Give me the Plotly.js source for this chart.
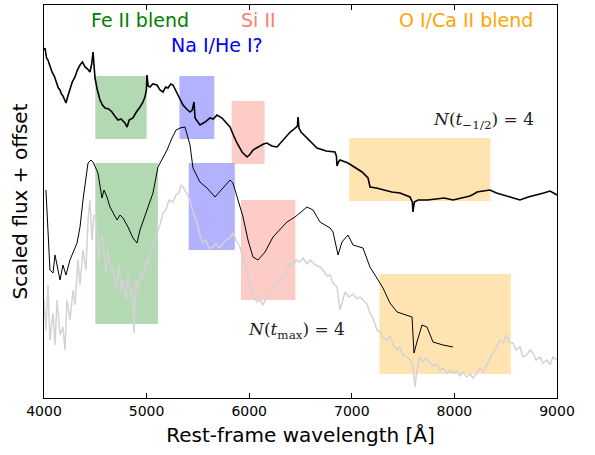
<!DOCTYPE html>
<html>
<head>
<meta charset="utf-8">
<script src="https://cdn.plot.ly/plotly-3.0.1.min.js"></script>
<style>html,body{margin:0;padding:0;background:#fff;}#chart{width:595px;height:455px;}</style>
</head>
<body>
<div id="chart"></div>
<script>
// Top spectrum: N(t_-1/2)=4
const waveTop = [4000,4010,4025,4039,4058,4078,4100,4127,4140,4156,4170,4185,4200,4214,4233,4253,4275,4302,4325,4351,4375,4400,4425,4448,4465,4478,4490,4497,4520,4546,4570,4595,4630,4663,4690,4721,4750,4789,4810,4830,4867,4900,4936,4960,4984,4998,5004,5015,5033,5060,5101,5130,5160,5185,5209,5235,5257,5280,5296,5330,5355,5390,5423,5445,5462,5472,5495,5520,5570,5618,5650,5686,5735,5770,5813,5850,5881,5930,5979,6010,6037,6070,6105,6140,6173,6220,6271,6320,6368,6400,6427,6470,6476,6485,6505,6580,6661,6750,6836,6850,6856,6870,6885,6963,7010,7051,7100,7158,7168,7178,7240,7304,7390,7470,7520,7567,7590,7596,7610,7645,7740,7830,7900,7986,8070,8152,8190,8220,8280,8347,8410,8474,8560,8639,8720,8805,8870,8932,8970,9000];
const fluxTop = [348,350,340,338,332,326,322,315,310,308,304,302,298,295,302,308,316,321,328,333,336,331,329,326,334,346,330,320,308,298,293,290,289,286,282,278,279,275,271,278,280,286,291,295,301,308,323,312,311,314,313,308,306,311,310,314,313,309,305,298,293,289,286,288,296,280,277,273,276,280,279,283,280,276,271,262,255,246,241,244,248,250,252,254,255,252,251,257,263,266,268,272,281,270,266,258,250,247,246,242,232,236,238,235,232,230,226,220,213,211,210,208,206,205,203,201,196,186,196,198,198,199,200,198,200,202,204,206,207,208,205,203,200,198,201,203,205,207,205,203];

// Middle spectrum (black, thin)
const waveMid = [4019,4039,4058,4088,4107,4127,4156,4185,4214,4253,4283,4322,4351,4380,4429,4458,4478,4526,4565,4585,4614,4643,4712,4741,4770,4819,4867,4906,4936,5004,5062,5111,5199,5248,5287,5326,5374,5423,5452,5520,5589,5667,5745,5813,5842,5891,5940,5988,6037,6086,6154,6232,6300,6368,6446,6563,6622,6690,6788,6817,6866,6904,6963,7012,7109,7177,7226,7304,7372,7441,7587,7606,7635,7684,7733,7791,7889,7986];
const fluxMid = [208,158,128,125,143,133,118,133,123,138,145,155,171,198,235,238,236,225,200,208,201,191,178,183,180,171,160,155,168,188,205,231,248,260,268,270,271,253,230,216,210,201,210,218,215,198,181,158,141,138,146,161,168,176,181,191,188,176,170,166,143,156,163,153,150,131,123,110,95,86,81,45,56,73,71,56,53,51];

// Gray spectrum: N(t_max)=4
const waveGray = [4000,4019,4039,4058,4088,4107,4127,4156,4185,4205,4224,4253,4283,4302,4331,4351,4380,4409,4429,4448,4468,4487,4517,4536,4556,4575,4604,4624,4653,4673,4702,4731,4750,4770,4799,4819,4838,4858,4877,4897,4916,4936,4965,4994,5014,5033,5062,5101,5130,5160,5189,5218,5257,5287,5316,5335,5355,5384,5423,5452,5491,5520,5550,5579,5608,5647,5676,5706,5745,5774,5813,5842,5871,5910,5940,5979,6008,6047,6076,6105,6134,6173,6202,6232,6271,6300,6329,6368,6397,6427,6456,6495,6524,6563,6593,6622,6661,6690,6719,6758,6788,6817,6856,6885,6914,6934,6973,7012,7051,7080,7109,7148,7177,7206,7245,7275,7304,7343,7372,7402,7441,7470,7499,7538,7567,7596,7616,7635,7664,7694,7723,7762,7791,7830,7859,7889,7928,7957,7986,8025,8054,8083,8122,8152,8181,8220,8250,8279,8318,8347,8376,8406,8444,8474,8503,8532,8571,8600,8639,8668,8707,8737,8766,8795,8834,8863,8903,8932,8961,9000];
const fluxGray = [98,68,113,58,85,53,98,63,71,48,98,78,108,93,138,113,148,128,178,198,158,183,178,138,163,158,123,148,128,131,108,133,108,118,98,123,103,111,65,118,108,125,118,138,133,145,153,165,173,185,188,198,196,203,205,213,211,206,198,186,175,163,155,158,150,151,155,150,155,158,160,165,158,151,140,125,113,100,96,98,93,102,105,108,115,118,121,128,135,132,138,136,140,134,138,135,132,131,128,122,123,115,111,88,100,106,101,104,99,101,98,94,85,80,68,66,60,58,62,53,48,51,43,41,38,31,11,28,41,36,40,35,32,34,28,30,25,28,25,27,22,26,21,24,20,25,30,26,35,40,45,50,58,55,63,56,55,48,51,41,43,48,45,38,41,35,38,33,41,38];

// Shaded line regions
const bandLabels = ["Fe II blend","Na I/He I?","Si II","O I/Ca II blend"];
const bandColors = ["rgba(0,128,0,0.3)","rgba(0,0,255,0.3)","rgba(250,128,114,0.4)","rgba(255,165,0,0.3)"];
const labelColors = ["green","blue","salmon","orange"];
const topBandX0 = [4500,5320,5830,6975];
const topBandX1 = [5000,5660,6150,8350];
const topBandY0 = [259,259,234,197];
const topBandY1 = [322,322,297,260];
const botBandX0 = [4500,5410,5920,7270];
const botBandX1 = [5110,5860,6450,8550];
const botBandY0 = [74,148,98,24];
const botBandY1 = [235,235,198,124];

const shapes = [];
for (let i = 0; i < 4; i++) {
  shapes.push({type:'rect', layer:'below', xref:'x', yref:'y', x0:topBandX0[i], x1:topBandX1[i], y0:topBandY0[i], y1:topBandY1[i], fillcolor:bandColors[i], line:{width:0}});
  shapes.push({type:'rect', layer:'below', xref:'x', yref:'y', x0:botBandX0[i], x1:botBandX1[i], y0:botBandY0[i], y1:botBandY1[i], fillcolor:bandColors[i], line:{width:0}});
}

const lblPx = [[140,20],[217,45],[258,20],[466,20]];
const annotations = bandLabels.map((t,i)=>({
  text:t, xref:'paper', yref:'paper',
  x:(lblPx[i][0]-44)/513, y:(398-lblPx[i][1])/393,
  xanchor:'center', yanchor:'middle', showarrow:false,
  font:{family:'DejaVu Sans', size:19, color:labelColors[i]}
}));
annotations.push({text:'<i>N</i>(<i>t</i><sub>−1/2</sub>) = 4', xref:'paper', yref:'paper', x:(483-44)/513, y:(398-120)/393, xanchor:'center', yanchor:'middle', showarrow:false, font:{family:'DejaVu Serif', size:17, color:'#222'}});
annotations.push({text:'<i>N</i>(<i>t</i><sub>max</sub>) = 4', xref:'paper', yref:'paper', x:(296-44)/513, y:(398-330)/393, xanchor:'center', yanchor:'middle', showarrow:false, font:{family:'DejaVu Serif', size:17, color:'#222'}});

const traces = [
  {x:waveGray, y:fluxGray, mode:'lines', line:{color:'lightgray', width:1.5}, hoverinfo:'skip'},
  {x:waveMid, y:fluxMid, mode:'lines', line:{color:'black', width:1}, hoverinfo:'skip'},
  {x:waveTop, y:fluxTop, mode:'lines', line:{color:'black', width:1.6}, hoverinfo:'skip'}
];

const layout = {
  width:595, height:455,
  margin:{l:44, r:38, t:5, b:57},
  paper_bgcolor:'white', plot_bgcolor:'white',
  showlegend:false,
  font:{family:'DejaVu Sans', color:'black'},
  xaxis:{range:[4000,9000], tickvals:[4000,5000,6000,7000,8000,9000], ticktext:['4000','5000','6000','7000','8000','9000'],
    ticks:'inside', ticklen:5, tickwidth:1, tickcolor:'black', showgrid:false, zeroline:false,
    showline:true, linecolor:'black', linewidth:1, mirror:'allticks',
    tickfont:{size:14, family:'DejaVu Sans'},
    title:{text:'Rest-frame wavelength [Å]', font:{size:20, family:'DejaVu Sans'}, standoff:10}},
  yaxis:{range:[0,393], showticklabels:false, ticks:'', showgrid:false, zeroline:false,
    showline:true, linecolor:'black', linewidth:1, mirror:true,
    title:{text:'Scaled flux + offset', font:{size:20, family:'DejaVu Sans'}, standoff:10}},
  shapes:shapes, annotations:annotations
};

Plotly.newPlot('chart', traces, layout, {staticPlot:true, displayModeBar:false});
</script>
</body>
</html>
